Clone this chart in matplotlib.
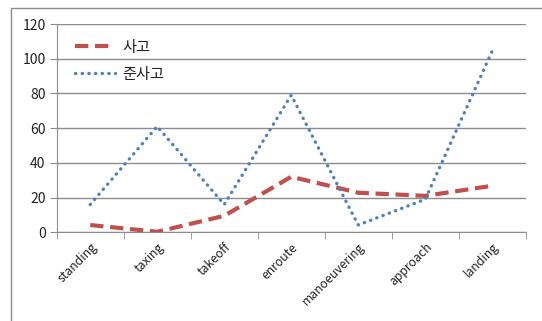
import matplotlib
matplotlib.use("Agg")
import matplotlib.pyplot as plt
from matplotlib.patches import Rectangle

plt.rcParams['font.family'] = ['Noto Sans CJK KR', 'DejaVu Sans']

phases = ['standing', 'taxing', 'takeoff', 'enroute', 'manoeuvering', 'approach', 'landing']
accident = [4.2, 0.3, 9.5, 32, 22.8, 21, 26.8]
incident = [16, 61, 16, 79, 4.2, 19, 104.5]
series_names = ['사고', '준사고']
y_ticks = [0, 20, 40, 60, 80, 100, 120]

fig = plt.figure(figsize=(5.42, 3.21), dpi=100)
ax = fig.add_axes([0.1046, 0.2763, 0.8654, 0.6489])

# outer chart frame (cut off at right and bottom in the source image)
fig.patches.append(Rectangle((11 / 542, -0.05), 1.1, 0.975 + 0.05, transform=fig.transFigure,
                             fill=False, edgecolor='#8c8c8c', linewidth=1.0))

x = range(len(phases))
ax.plot(x, accident, color='#C0504D', linewidth=3, linestyle=(0, (3.2, 1.6)), label=series_names[0])
ax.plot(x, incident, color='#4F81BD', linewidth=2.4, linestyle=(0, (0.1, 1.9)),
        dash_capstyle='round', label=series_names[1])

ax.set_xlim(-0.5, len(phases) - 0.5)
ax.set_ylim(0, 120)
ax.set_yticks(y_ticks)
ax.yaxis.grid(True, color='#8c8c8c', linewidth=1)
ax.set_axisbelow(True)

# category labels at centers, tick marks at the boundaries
ax.set_xticks(list(x))
ax.set_xticklabels(phases, rotation=45, ha='right', rotation_mode='anchor', fontsize=8.8, color='#222222')
ax.set_xticks([i - 0.5 for i in range(len(phases) + 1)], minor=True)
ax.tick_params(axis='x', which='major', length=0, pad=6)
ax.tick_params(axis='x', which='minor', length=5, color='#8c8c8c', direction='out')
ax.tick_params(axis='y', length=5, color='#8c8c8c', labelsize=10, labelcolor='#222222', pad=3)

for side in ['top', 'right']:
    ax.spines[side].set_visible(False)
for side in ['left', 'bottom']:
    ax.spines[side].set_color('#8c8c8c')

leg = ax.legend(loc='upper left', bbox_to_anchor=(0.01, 0.996), frameon=False,
                fontsize=11, handlelength=2.6, handletextpad=0.5, labelspacing=0.65)
for t in leg.get_texts():
    t.set_color('#222222')

fig.savefig('out.png', dpi=100)
